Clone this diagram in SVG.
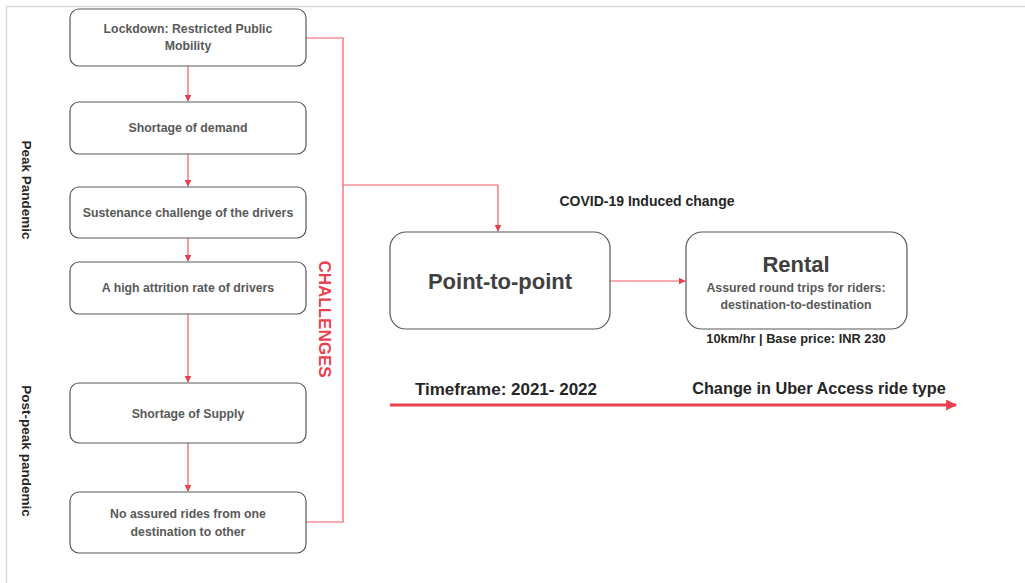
<svg xmlns="http://www.w3.org/2000/svg" width="1025" height="583" viewBox="0 0 1025 583">
<defs>
<style>
.box{fill:#fff;stroke:#595959;stroke-width:1.2}
.bt{font-family:"Liberation Sans",Arial,sans-serif;font-weight:bold;font-size:12.3px;fill:#595959;text-anchor:middle}
.lbl{font-family:"Liberation Sans",Arial,sans-serif;font-weight:bold;fill:#262626}
.con{fill:none;stroke:#ef5a66;stroke-width:1.2}
</style>
<marker id="ah" viewBox="0 0 10 10" refX="9" refY="5" markerWidth="7" markerHeight="7" markerUnits="userSpaceOnUse" orient="auto"><path d="M0,0 L10,5 L0,10 z" fill="#e8414f"/></marker>
<marker id="ahb" viewBox="0 0 10 10" refX="9" refY="5" markerWidth="11" markerHeight="11" markerUnits="userSpaceOnUse" orient="auto"><path d="M0,0 L10,5 L0,10 z" fill="#e8414f"/></marker>
</defs>
<rect width="1025" height="583" fill="#fff"/>
<path d="M6.5,583 V6.5 H1025" fill="none" stroke="#d9d9d9" stroke-width="1.5"/>

<g id="connectors">
<line class="con" x1="188" y1="66" x2="188" y2="101" marker-end="url(#ah)"/>
<line class="con" x1="188" y1="154" x2="188" y2="186" marker-end="url(#ah)"/>
<line class="con" x1="188" y1="238" x2="188" y2="261" marker-end="url(#ah)"/>
<line class="con" x1="188" y1="314" x2="188" y2="382" marker-end="url(#ah)"/>
<line class="con" x1="188" y1="443" x2="188" y2="491" marker-end="url(#ah)"/>
<path class="con" d="M306,38 H343 V522 H306"/>
<path class="con" d="M343,185 H498 V231" marker-end="url(#ah)"/>
<line class="con" x1="610" y1="281" x2="685" y2="281" marker-end="url(#ah)"/>
<line x1="390" y1="405" x2="956" y2="405" stroke="#e8414f" stroke-width="3" marker-end="url(#ahb)"/>
</g>

<g id="n1"><rect class="box" x="70" y="9" width="236" height="57" rx="9"/><text class="bt" x="188" y="33">Lockdown: Restricted Public</text><text class="bt" x="188" y="50">Mobility</text></g>
<g id="n2"><rect class="box" x="70" y="102" width="236" height="52" rx="9"/><text class="bt" x="188" y="132">Shortage of demand</text></g>
<g id="n3"><rect class="box" x="70" y="187" width="236" height="51" rx="9"/><text class="bt" x="188" y="217">Sustenance challenge of the drivers</text></g>
<g id="n4"><rect class="box" x="70" y="262" width="236" height="52" rx="9"/><text class="bt" x="188" y="292">A high attrition rate of drivers</text></g>
<g id="n5"><rect class="box" x="70" y="383" width="236" height="60" rx="9"/><text class="bt" x="188" y="418">Shortage of Supply</text></g>
<g id="n6"><rect class="box" x="70" y="492" width="236" height="61" rx="9"/><text class="bt" x="188" y="518">No assured rides from one</text><text class="bt" x="188" y="536">destination to other</text></g>

<g id="peak"><text class="lbl" font-size="13.5" transform="translate(22,190) rotate(90)" text-anchor="middle">Peak Pandemic</text></g>
<g id="postpeak"><text class="lbl" font-size="13.5" transform="translate(22,451) rotate(90)" text-anchor="middle">Post-peak pandemic</text></g>
<g id="challenges"><text font-family="Liberation Sans,Arial,sans-serif" font-weight="bold" font-size="17" fill="#e8414f" transform="translate(319,319) rotate(90)" text-anchor="middle">CHALLENGES</text></g>

<g id="p2p"><rect class="box" x="390" y="232" width="220" height="97" rx="16"/><text x="500" y="289" text-anchor="middle" font-family="Liberation Sans,Arial,sans-serif" font-weight="bold" font-size="22" fill="#404040">Point-to-point</text></g>
<g id="rental"><rect class="box" x="686" y="232" width="221" height="97" rx="16"/><text x="796" y="272" text-anchor="middle" font-family="Liberation Sans,Arial,sans-serif" font-weight="bold" font-size="22" fill="#404040">Rental</text><text class="bt" x="796" y="292">Assured round trips for riders:</text><text class="bt" x="796" y="309">destination-to-destination</text></g>

<g id="labels">
<text class="lbl" x="647" y="206" font-size="14" text-anchor="middle">COVID-19 Induced change</text>
<text class="lbl" x="796" y="343" font-size="12.8" text-anchor="middle">10km/hr | Base price: INR 230</text>
<text class="lbl" x="506" y="395" font-size="17" text-anchor="middle">Timeframe: 2021- 2022</text>
<text class="lbl" x="819" y="394" font-size="16.3" text-anchor="middle">Change in Uber Access ride type</text>
</g>
</svg>
